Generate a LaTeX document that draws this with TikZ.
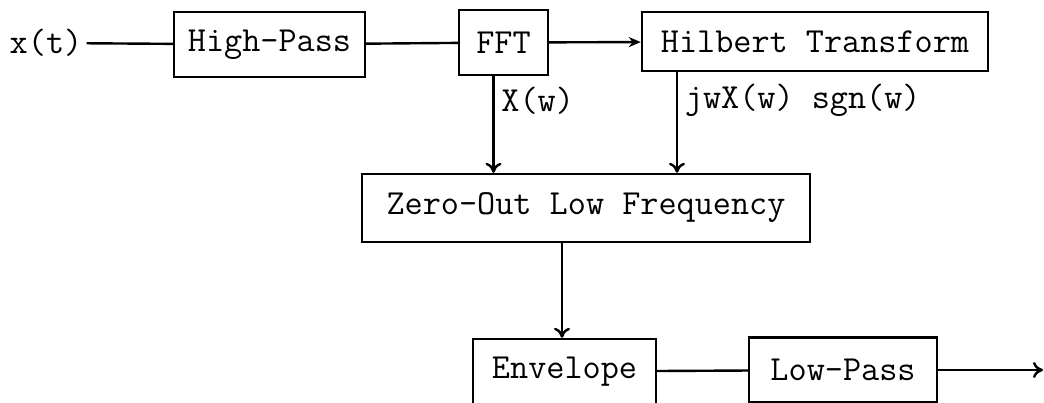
\documentclass[tikz,border=0pt]{standalone}
\usepackage{fontspec}
\usetikzlibrary{arrows.meta}
\tikzset{%
  block/.style = {shape=rectangle, draw, line width=1.2pt,%
                  inner sep=0pt, minimum height=32.5pt},%
  wire/.style  = {line width=1.2pt},%
  flow/.style  = {wire, -{To[length=5pt,width=8pt]}},%
  feed/.style  = {wire, -{Stealth[length=6pt,width=5pt]}}%
}

\begin{document}
\begin{tikzpicture}[x=0.5pt,y=-0.5pt,
		every node/.style = {font=\ttfamily\fontsize{17.6}{20}\selectfont}]
		\useasboundingbox (0,0) rectangle (1044,402);
		\node[inner sep=2pt] (xt) at (46,43) {x(t)};
		\node[block, minimum width=95.5pt] (hp) at (269.5,44.5) {High-Pass};
		\node[block, minimum width=44.5pt] (fft) at (503.5,42.5) {FFT};
		\node[block, minimum width=173pt, minimum height=29.5pt] (hil) at (815,41.5) {Hilbert Transform};
		\node[block, minimum width=224pt, minimum height=34pt] (zero) at (586,208) {Zero-Out Low Frequency};
		\node[block, minimum width=91.5pt] (env) at (564.5,371.5) {Envelope};
		\node[block, minimum width=94pt] (lp) at (843,370) {Low-Pass};
		\coordinate (xw) at ([xshift=-5pt]fft.south);
		\coordinate (hw) at ([xshift=-69pt]hil.south);
		\coordinate (zo) at ([xshift=-12pt]zero.south);
		\coordinate (out) at (1043,370);
		\draw[wire] (xt) -- (hp);
		\draw[wire] (hp) -- (fft);
		\draw[feed] (fft) -- (hil);
		\draw[flow] (xw) -- (xw |- zero.north) node[right, pos=0.25] {X(w)};
		\draw[flow] (hw) -- (hw |- zero.north) node[right, pos=0.28] {jwX(w) sgn(w)};
		\draw[flow] (zo) -- (zo |- env.north);
		\draw[wire] (env) -- (lp);
		\draw[flow] (lp) -- (out);
\end{tikzpicture}
\end{document}
